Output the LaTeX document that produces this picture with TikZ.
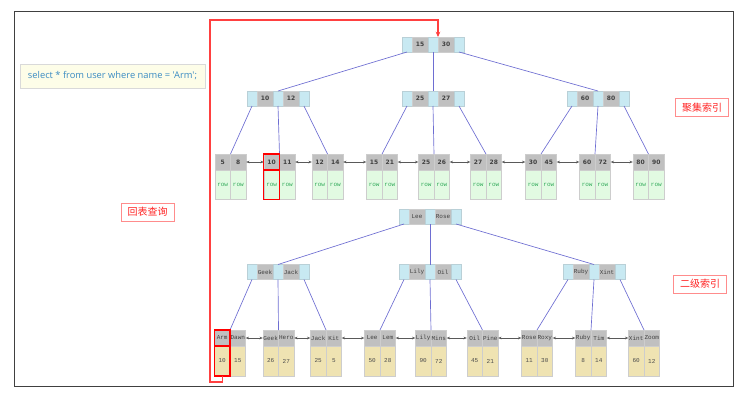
\documentclass[tikz,border=0pt]{standalone}
\usepackage{fontspec}
\setsansfont{DejaVu Sans}
\setmonofont{Liberation Mono}
\newfontfamily\sqlfont{Open Sans}
\newfontfamily\cjk{Noto Sans CJK SC}
\usepackage{tikz}
\usetikzlibrary{positioning}
\usetikzlibrary{arrows.meta}

\definecolor{ptrblue}{RGB}{200,233,242}
\definecolor{ptrline}{RGB}{185,208,215}
\definecolor{keygray}{RGB}{192,192,192}
\definecolor{keyline}{RGB}{205,205,205}
\definecolor{rowgreen}{RGB}{226,250,226}
\definecolor{rowtext}{RGB}{50,170,90}
\definecolor{valyellow}{RGB}{239,227,178}
\definecolor{edgeblue}{RGB}{110,110,210}
\definecolor{sqlfill}{RGB}{253,253,232}
\definecolor{sqltext}{RGB}{60,140,195}

\tikzstyle{cell} = [inner sep=0pt, outer sep=0pt]
\tikzstyle{ptr} = [cell, draw=ptrline, fill=ptrblue, minimum width=7.5pt, minimum height=11.25pt]
\tikzstyle{key} = [cell, draw=keyline, fill=keygray, minimum width=12pt, minimum height=11.25pt, text=black!75]
\tikzstyle{numkey} = [key, font=\sffamily\bfseries\fontsize{4.5}{5}\selectfont]
\tikzstyle{namekey} = [key, font=\ttfamily\fontsize{4.5}{5}\selectfont]
\tikzstyle{leafkey} = [cell, draw=keyline, fill=keygray, minimum width=11.75pt, minimum height=12pt, text=black!75]
\tikzstyle{numleaf} = [leafkey, font=\sffamily\bfseries\fontsize{4.5}{5}\selectfont]
\tikzstyle{nameleaf} = [leafkey, font=\ttfamily\fontsize{4.5}{5}\selectfont]
\tikzstyle{rowcell} = [cell, draw=keyline, fill=rowgreen, text=rowtext, minimum width=11.75pt, minimum height=22pt, font=\ttfamily\fontsize{4.5}{5}\selectfont]
\tikzstyle{valcell} = [cell, draw=keyline, fill=valyellow, text=black!70, minimum width=11.75pt, minimum height=22.5pt, font=\ttfamily\fontsize{4.5}{5}\selectfont]
\tikzstyle{treeline} = [draw=edgeblue, line width=0.5pt]
\tikzstyle{leaflink} = [draw=black!65, line width=0.4pt, {Stealth[length=2.5pt,width=2pt]}-{Stealth[length=2.5pt,width=2pt]}]
\tikzstyle{hl} = [draw=red, line width=0.8pt]
\tikzstyle{backline} = [draw=red!75, line width=0.8pt, -{Stealth[length=4pt,width=3.5pt]}]
\tikzstyle{tag} = [draw=red!45, fill=white, text=red!85, font=\cjk\fontsize{7.5}{8}\selectfont, minimum width=40pt, minimum height=13.5pt, inner sep=0pt]
\tikzstyle{sqlbox} = [draw=black!15, fill=sqlfill, text=sqltext, font=\sqlfont\fontsize{7}{8}\selectfont, minimum width=138.75pt, minimum height=18pt, inner sep=0pt]

% one page of a tree: ptr key ptr key ptr
\newcommand{\treenode}[5]{%
  \node[ptr, anchor=west] (#1-1) at (#2) {};
  \node[#3, right=0pt of #1-1] (#1-2) {#4};
  \node[ptr, right=0pt of #1-2] (#1-3) {};
  \node[#3, right=0pt of #1-3] (#1-4) {#5};
  \node[ptr, right=0pt of #1-4] (#1-5) {};
}

\begin{document}
\begin{tikzpicture}[x=0.75pt, y=-0.75pt]
	\useasboundingbox (0,0) rectangle (743,400);
	\draw[black!75, line width=0.7pt] (14,11) rectangle (733,386);

	\node[sqlbox] (sql) at (112.5,76) {select * from user where name = 'Arm';};
	\node[tag] (clustered) at (702,107.5) {聚集索引};
	\node[tag] (secondary) at (700,284) {二级索引};
	\node[tag] (lookup) at (147.5,212) {回表查询};

	% clustered index
	\treenode{r}{402,44.5}{numkey}{15}{30}
	\treenode{p1}{247,98.5}{numkey}{10}{12}
	\treenode{p2}{402,98.5}{numkey}{25}{27}
	\treenode{p3}{567,98.5}{numkey}{60}{80}

	\foreach \n/\x/\a/\b in {c1/230.5/5/8, c2/279.5/10/11, c3/327.5/12/14, c4/382/15/21, c5/434/25/26, c6/486/27/28, c7/541/30/45, c8/595/60/72, c9/648.5/80/90}{
		\node[numleaf, anchor=north east] (\n-a) at (\x,154) {\a};
		\node[numleaf, anchor=north west] (\n-b) at (\x,154) {\b};
		\node[rowcell, below=0pt of \n-a] (\n-c) {row};
		\node[rowcell, below=0pt of \n-b] (\n-d) {row};
	}

	\foreach \f/\t in {r-1/p1, r-3/p2, r-5/p3}
		\draw[treeline] (\f.south) -- (\t-3.north);
	\foreach \f/\t in {p1-1/c1, p1-3/c2, p1-5/c3, p2-1/c4, p2-3/c5, p2-5/c6, p3-1/c7, p3-3/c8, p3-5/c9}
		\draw[treeline] (\f.south) -- (\t-a.north east);
	\foreach \f/\t in {c1/c2, c2/c3, c3/c4, c4/c5, c5/c6, c6/c7, c7/c8, c8/c9}
		\draw[leaflink] (\f-b) -- (\t-a);

	% secondary index
	\treenode{s}{399,216.5}{namekey}{Lee}{Rose}
	\treenode{q1}{247,272}{namekey}{Geek}{Jack}
	\treenode{q2}{399,272}{namekey}{Lily}{Oil}
	\treenode{q3}{563,272}{namekey}{Ruby}{Xint}

	\foreach \n/\x/\a/\b/\u/\v in {d1/230/Arm/Dawn/10/15, d2/278.5/Geek/Hero/26/27, d3/326/Jack/Kit/25/5, d4/380/Lee/Lem/50/28, d5/431/Lily/Mins/90/72, d6/482.5/Oil/Pine/45/21, d7/537/Rose/Roxy/11/30, d8/591/Ruby/Tim/8/14, d9/644/Xint/Zoom/60/12}{
		\node[nameleaf, anchor=north east] (\n-a) at (\x,330) {\a};
		\node[nameleaf, anchor=north west] (\n-b) at (\x,330) {\b};
		\node[valcell, below=0pt of \n-a] (\n-c) {\u};
		\node[valcell, below=0pt of \n-b] (\n-d) {\v};
	}

	\foreach \f/\t in {s-1/q1, s-3/q2, s-5/q3}
		\draw[treeline] (\f.south) -- (\t-3.north);
	\foreach \f/\t in {q1-1/d1, q1-3/d2, q1-5/d3, q2-1/d4, q2-3/d5, q2-5/d6, q3-1/d7, q3-3/d8, q3-5/d9}
		\draw[treeline] (\f.south) -- (\t-a.north east);
	\foreach \f/\t in {d1/d2, d2/d3, d3/d4, d4/d5, d5/d6, d6/d7, d7/d8, d8/d9}
		\draw[leaflink] (\f-b) -- (\t-a);

	% highlighted cells
	\draw[hl] (c2-a.south west) rectangle (c2-a.north east);
	\draw[hl] (c2-c.south west) rectangle (c2-c.north east);
	\draw[hl] (d1-a.south west) rectangle (d1-a.north east);
	\draw[hl] (d1-c.south west) rectangle (d1-c.north east);

	% back to the clustered index
	\draw[backline] (d1-c.south) |- (210,382) -- (210,20) -| (r-4.north west);
\end{tikzpicture}
\end{document}
